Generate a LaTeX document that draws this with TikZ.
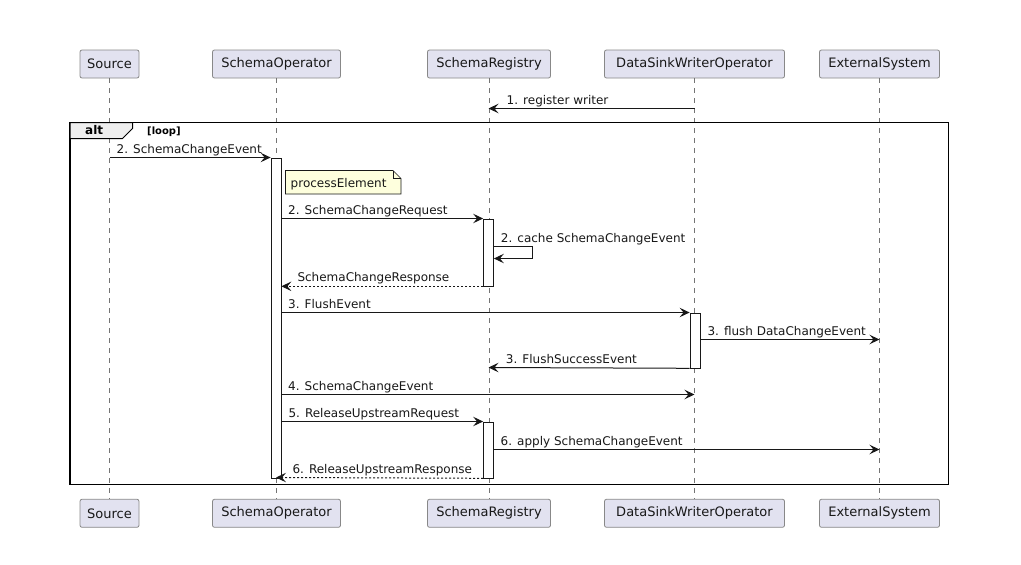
\documentclass[tikz,border=0pt]{standalone}
\usepackage{fontspec}
\setmainfont{DejaVu Sans}
\usetikzlibrary{arrows.meta}
\definecolor{partfill}{HTML}{E2E2F0}
\definecolor{partline}{HTML}{888888}
\definecolor{ink}{HTML}{181818}
\definecolor{notefill}{HTML}{FEFFDD}
\definecolor{tabfill}{HTML}{EEEEEE}
\tikzset{
  part/.style={draw=partline, fill=partfill, rounded corners=2pt, line width=0.8pt,
    minimum height=28pt, inner sep=0pt, font=\fontsize{13}{15}\selectfont, text=ink},
  life/.style={draw=ink!60, line width=0.6pt, dash pattern=on 5pt off 5pt},
  actbar/.style={draw=ink, fill=white, line width=0.8pt, minimum width=10pt, inner sep=0pt, anchor=north},
  msg/.style={draw=ink, line width=1pt, -{Stealth[length=10pt,width=9.5pt,inset=4pt]}},
  ret/.style={msg, dash pattern=on 2pt off 2pt},
  lbl/.style={anchor=base west, inner sep=0pt, font=\fontsize{12}{14}\selectfont, text=ink},
}
\begin{document}
\begin{tikzpicture}[x=1pt,y=-1pt]
\useasboundingbox[fill=white] (0,0) rectangle (1021,565);
% participants top
\node[part, minimum width=59pt]  (srcT) at (109.5,64) {Source};
\node[part, minimum width=128pt] (opT)  at (276.5,64) {SchemaOperator};
\node[part, minimum width=123pt] (regT) at (489,64) {SchemaRegistry};
\node[part, minimum width=180pt] (dsT)  at (694.5,64) {DataSinkWriterOperator};
\node[part, minimum width=120pt] (extT) at (879.5,64) {ExternalSystem};
% participants bottom
\node[part, minimum width=59pt]  (srcB) at (109.5,513.3) {Source};
\node[part, minimum width=128pt] (opB)  at (276.5,513.3) {SchemaOperator};
\node[part, minimum width=123pt] (regB) at (489,513.3) {SchemaRegistry};
\node[part, minimum width=180pt] (dsB)  at (694.5,513.3) {DataSinkWriterOperator};
\node[part, minimum width=120pt] (extB) at (879.5,513.3) {ExternalSystem};
% lifelines
\foreach \p in {src,op,reg,ds,ext}{
  \draw[life] (\p T.south) -- (\p B.north);
}
% alt frame
\draw[line width=1.6pt, draw=black] (70,122.5) rectangle (948.5,484.5);
\draw[line width=1pt, draw=black, fill=tabfill] (70,122.5) -- (132.5,122.5) -- (132.5,128.5) -- (122.5,138.5) -- (70,138.5) -- cycle;
\node[anchor=base west, inner sep=0pt, font=\fontsize{12}{14}\selectfont\bfseries] (altL) at (85,134) {alt};
\node[anchor=base west, inner sep=0pt, font=\fontsize{10}{12}\selectfont\bfseries] (loopL) at (147,134) {[loop]};
% activation bars
\node[actbar, minimum height=320pt] (opA) at (276,157.5) {};
\node[actbar, minimum height=67pt] (regA1) at (488.5,218.5) {};
\node[actbar, minimum height=55pt] (dsA) at (695,312.5) {};
\node[actbar, minimum height=56pt] (regA2) at (488.5,421.5) {};
% named coordinates
\coordinate (dsL1) at (694.5,108.5);
\coordinate (regL1) at (488.5,108.5);
\coordinate (srcL2) at (109.5,157.5);
\coordinate (extL3) at (879.5,339.5);
\coordinate (dsL4) at (694.5,394.5);
\coordinate (extL6) at (879.5,449.5);
\coordinate (regL3) at (488.5,367.5);
\coordinate (selfA) at (532.5,246.5);
\coordinate (selfB) at (532.5,258.5);
\coordinate (opL6) at (276,477.5);
% messages
\draw[msg] (dsL1) -- (regL1);
\node[lbl] at (506.5,104.5) {1. register writer};
\draw[msg] (srcL2) -- (opA.north west);
\node[lbl] at (116.5,153.5) {2. SchemaChangeEvent};
% note
\draw[draw=ink, line width=0.6pt, fill=notefill] (285.5,170.5) -- (393,170.5) -- (401,178.5) -- (401,194) -- (285.5,194) -- cycle;
\draw[draw=ink, line width=0.6pt] (393,170.5) -- (393,178.5) -- (401,178.5);
\node[lbl] (note) at (290.5,187.5) {processElement};
\draw[msg] (opA.east |- regA1.north) -- (regA1.north west);
\node[lbl] at (288,214.5) {2. SchemaChangeRequest};
\draw[msg] (regA1.east |- selfA) -- (selfA) -- (selfB) -- (regA1.east |- selfB);
\node[lbl] at (500.7,242.5) {2. cache SchemaChangeEvent};
\draw[ret] (regA1.south west) -- (opA.east |- regA1.south);
\node[lbl] at (297.3,281) {SchemaChangeResponse};
\draw[msg] (opA.east |- dsA.north) -- (dsA.north west);
\node[lbl] at (288,308.5) {3. FlushEvent};
\draw[msg] (dsA.east |- extL3) -- (extL3);
\node[lbl] at (707.3,335.5) {3. flush DataChangeEvent};
\draw[msg] (dsA.south west) -- (regL3);
\node[lbl] at (505.7,363.5) {3. FlushSuccessEvent};
\draw[msg] (opA.east |- dsL4) -- (dsL4);
\node[lbl] at (288,390.5) {4. SchemaChangeEvent};
\draw[msg] (opA.east |- regA2.north) -- (regA2.north west);
\node[lbl] at (288.3,417.5) {5. ReleaseUpstreamRequest};
\draw[msg] (regA2.east |- extL6) -- (extL6);
\node[lbl] at (500.5,445.5) {6. apply SchemaChangeEvent};
\draw[ret] (regA2.south west) -- (opL6);
\node[lbl] at (292.3,473.5) {6. ReleaseUpstreamResponse};
\end{tikzpicture}
\end{document}
